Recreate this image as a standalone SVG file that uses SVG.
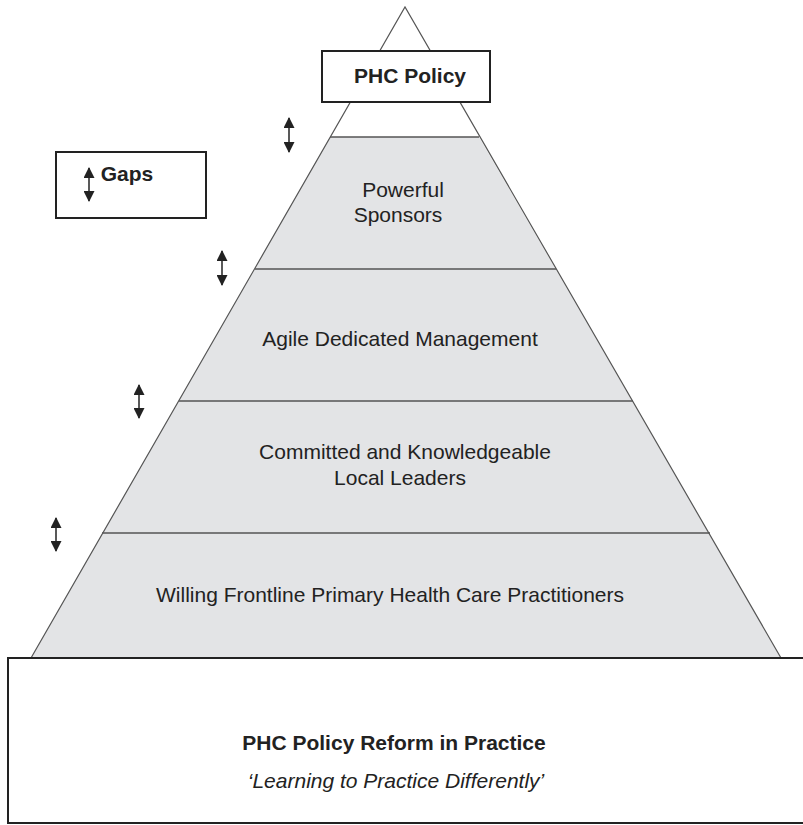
<svg xmlns="http://www.w3.org/2000/svg" width="803" height="825" viewBox="0 0 803 825">
  <style>
    .edge { stroke: #555; stroke-width: 1.2; fill: none; }
    .tier { fill: #e3e4e6; }
    .sep { stroke: #555; stroke-width: 1.6; }
    .box { fill: #fff; stroke: #222; stroke-width: 2; }
    .lbl { font-family: "Liberation Sans", Arial, sans-serif; font-size: 21px; fill: #222; text-anchor: middle; }
    .bold { font-weight: bold; }
    .gap { stroke: #222; stroke-width: 1.5; marker-start: url(#head); marker-end: url(#head); }
  </style>
  <defs>
    <marker id="head" viewBox="0 0 11 11" refX="10" refY="5.5" markerWidth="11" markerHeight="11" markerUnits="userSpaceOnUse" orient="auto-start-reverse">
      <path d="M0,0 L11,5.5 L0,11 Z" fill="#222"/>
    </marker>
  </defs>

  <!-- pyramid tiers -->
  <g id="pyramid">
    <polygon points="405,7 330,137 479,137" fill="#fff"/>
    <polygon class="tier" points="330,137 479,137 781,658 31,658"/>
    <polyline class="edge" points="31,658 405,7 781,658"/>
    <line class="sep" x1="330" y1="137" x2="479" y2="137"/>
    <line class="sep" x1="255" y1="269" x2="556" y2="269"/>
    <line class="sep" x1="179" y1="401" x2="633" y2="401"/>
    <line class="sep" x1="102" y1="533" x2="710" y2="533"/>
  </g>

  <g id="sponsors">
    <text class="lbl" x="403" y="197">Powerful</text>
    <text class="lbl" x="398" y="222">Sponsors</text>
  </g>
  <g id="management">
    <text class="lbl" x="400" y="346">Agile Dedicated Management</text>
  </g>
  <g id="leaders">
    <text class="lbl" x="405" y="459">Committed and Knowledgeable</text>
    <text class="lbl" x="400" y="485">Local Leaders</text>
  </g>
  <g id="practitioners">
    <text class="lbl" x="390" y="602">Willing Frontline Primary Health Care Practitioners</text>
  </g>

  <g id="policy">
    <rect class="box" x="322" y="51" width="168" height="51"/>
    <text class="lbl bold" x="410" y="83">PHC Policy</text>
  </g>

  <g id="legend">
    <rect class="box" x="56" y="152" width="150" height="66"/>
    <line class="gap" x1="89" y1="168" x2="89" y2="201"/>
    <text class="lbl bold" x="127" y="181">Gaps</text>
  </g>

  <g id="reform">
    <rect class="box" x="8" y="658" width="805" height="165"/>
    <text class="lbl bold" x="394" y="750">PHC Policy Reform in Practice</text>
    <text class="lbl" x="396" y="788" font-style="italic">‘Learning to Practice Differently’</text>
  </g>

  <!-- gap connectors between tiers -->
  <g id="connectors">
    <line class="gap" x1="289" y1="118" x2="289" y2="152"/>
    <line class="gap" x1="222" y1="251" x2="222" y2="285"/>
    <line class="gap" x1="139" y1="385" x2="139" y2="418"/>
    <line class="gap" x1="56" y1="518" x2="56" y2="551"/>
  </g>
</svg>
